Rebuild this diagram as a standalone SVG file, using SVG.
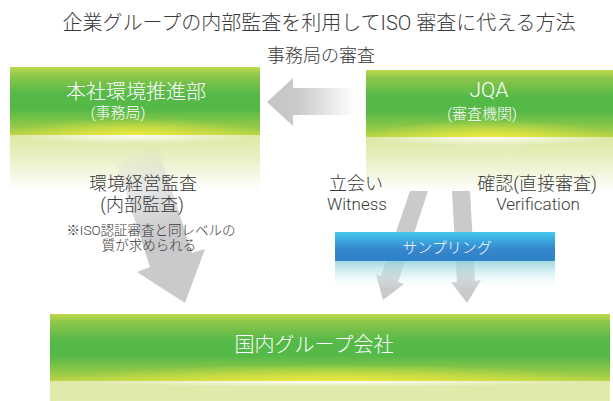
<svg xmlns="http://www.w3.org/2000/svg" width="613" height="401" viewBox="0 0 613 401">
<defs>
<style>
.t{font-family:Roboto,"Noto Sans CJK JP",sans-serif;font-weight:300;fill:#3a3a3a;text-anchor:middle}
.w{fill:#ffffff}
.arr{fill:#c9cacc}
</style>
<linearGradient id="green" x1="0" y1="0" x2="0" y2="1">
<stop offset="0" stop-color="#c0da4c"/>
<stop offset="0.12" stop-color="#8dc64a"/>
<stop offset="0.4" stop-color="#55b948"/>
<stop offset="0.62" stop-color="#55b948"/>
<stop offset="0.9" stop-color="#9acb48"/>
<stop offset="1" stop-color="#bcd546"/>
</linearGradient>
<radialGradient id="glowY" cx="0.5" cy="1" r="0.5" gradientTransform="translate(0.5 1) scale(1 0.5) translate(-0.5 -1)">
<stop offset="0" stop-color="#ecea40" stop-opacity="0.95"/>
<stop offset="1" stop-color="#ecea40" stop-opacity="0"/>
</radialGradient>
<linearGradient id="pale" x1="0" y1="0" x2="0" y2="1">
<stop offset="0" stop-color="#dce8a2"/>
<stop offset="0.45" stop-color="#eaf1c8"/>
<stop offset="1" stop-color="#ffffff"/>
</linearGradient>
<linearGradient id="paleB" x1="0" y1="0" x2="0" y2="1">
<stop offset="0" stop-color="#dfe9a8"/>
<stop offset="1" stop-color="#e2ebae"/>
</linearGradient>
<radialGradient id="glowW" cx="0.5" cy="0" r="0.5" gradientTransform="translate(0.5 0) scale(1 0.6) translate(-0.5 0)">
<stop offset="0" stop-color="#ffffff" stop-opacity="0.95"/>
<stop offset="1" stop-color="#ffffff" stop-opacity="0"/>
</radialGradient>
<linearGradient id="blue" x1="0" y1="0" x2="0" y2="1">
<stop offset="0" stop-color="#47c8ef"/>
<stop offset="0.3" stop-color="#3aa6de"/>
<stop offset="0.6" stop-color="#3586cc"/>
<stop offset="1" stop-color="#2f82c8"/>
</linearGradient>
<linearGradient id="cyanFade" x1="0" y1="0" x2="0" y2="1">
<stop offset="0" stop-color="#8fd3db" stop-opacity="0.85"/>
<stop offset="0.5" stop-color="#c6e9ec" stop-opacity="0.5"/>
<stop offset="1" stop-color="#ffffff" stop-opacity="0"/>
</linearGradient>
<linearGradient id="leftArr" gradientUnits="userSpaceOnUse" x1="267" y1="0" x2="355" y2="0">
<stop offset="0" stop-color="#c4c5c7"/>
<stop offset="0.35" stop-color="#c9cacc"/>
<stop offset="1" stop-color="#ffffff"/>
</linearGradient>
<linearGradient id="bigArr" gradientUnits="userSpaceOnUse" x1="137" y1="150" x2="180" y2="290">
<stop offset="0" stop-color="#c9cacc" stop-opacity="0.05"/>
<stop offset="0.3" stop-color="#c9cacc" stop-opacity="0.5"/>
<stop offset="0.6" stop-color="#c9cacc" stop-opacity="1"/>
<stop offset="1" stop-color="#c9cacc" stop-opacity="1"/>
</linearGradient>
</defs>
<rect width="613" height="401" fill="#ffffff"/>

<g id="title">
<text class="t" x="319" y="30" font-size="20">企業グループの内部監査を利用してISO 審査に代える方法</text>
<text class="t" x="321" y="62" font-size="18">事務局の審査</text>
</g>

<g id="node-honsha">
<rect x="10" y="135" width="250" height="55" fill="url(#pale)"/>
<rect x="10" y="135" width="250" height="30" fill="url(#glowW)"/>
<rect x="10" y="67" width="250" height="68" fill="url(#green)"/>
<rect x="10" y="67" width="250" height="68" fill="url(#glowY)"/>
<text class="t w" x="136" y="99" font-size="20">本社環境推進部</text>
<text class="t w" x="118" y="118" font-size="15">(事務局)</text>
</g>

<g id="node-jqa">
<rect x="366" y="137" width="247" height="55" fill="url(#pale)"/>
<rect x="366" y="137" width="247" height="30" fill="url(#glowW)"/>
<rect x="366" y="70" width="247" height="67" fill="url(#green)"/>
<rect x="366" y="70" width="247" height="67" fill="url(#glowY)"/>
<text class="t w" x="489" y="97" font-size="21">JQA</text>
<text class="t w" x="482" y="119" font-size="15">(審査機関)</text>
</g>

<g id="node-kokunai">
<rect x="50" y="381" width="560" height="20" fill="url(#paleB)"/>
<rect x="50" y="381" width="560" height="20" fill="url(#glowW)"/>
<rect x="50" y="314" width="560" height="67" fill="url(#green)"/>
<rect x="50" y="314" width="560" height="67" fill="url(#glowY)"/>
<text class="t w" x="314" y="352" font-size="20">国内グループ会社</text>
</g>

<g id="connectors">
<polygon fill="url(#leftArr)" points="267,102 293,78 293,88 355,88 355,115 293,115 293,126"/>
<polygon fill="url(#bigArr)" points="117,165 157,145 192,253 205,249 185,303 137,272 150,267"/>
<polygon class="arr" points="410,191 428,191 398,282 404,284 383,300 376,274 381,276"/>
<polygon class="arr" points="452,191 470,191 475,281 481,280 467,303 451,282 457,282"/>
</g>

<g id="node-sampling">
<rect x="335" y="232" width="220" height="29" fill="url(#blue)"/>
<rect x="335" y="261" width="220" height="28" fill="url(#cyanFade)"/>
<text class="t w" x="447" y="253" font-size="15">サンプリング</text>
</g>

<g id="labels">
<text class="t" x="143" y="190" font-size="18">環境経営監査</text>
<text class="t" x="142" y="211" font-size="18">(内部監査)</text>
<text class="t" x="151" y="235" font-size="13.5">※ISO認証審査と同レベルの</text>
<text class="t" x="149" y="250" font-size="13.5">質が求められる</text>
<text class="t" x="356" y="190" font-size="18">立会い</text>
<text class="t" x="357" y="210" font-size="17">Witness</text>
<text class="t" x="537" y="190" font-size="18">確認(直接審査)</text>
<text class="t" x="538" y="210" font-size="17">Verification</text>
</g>
</svg>
